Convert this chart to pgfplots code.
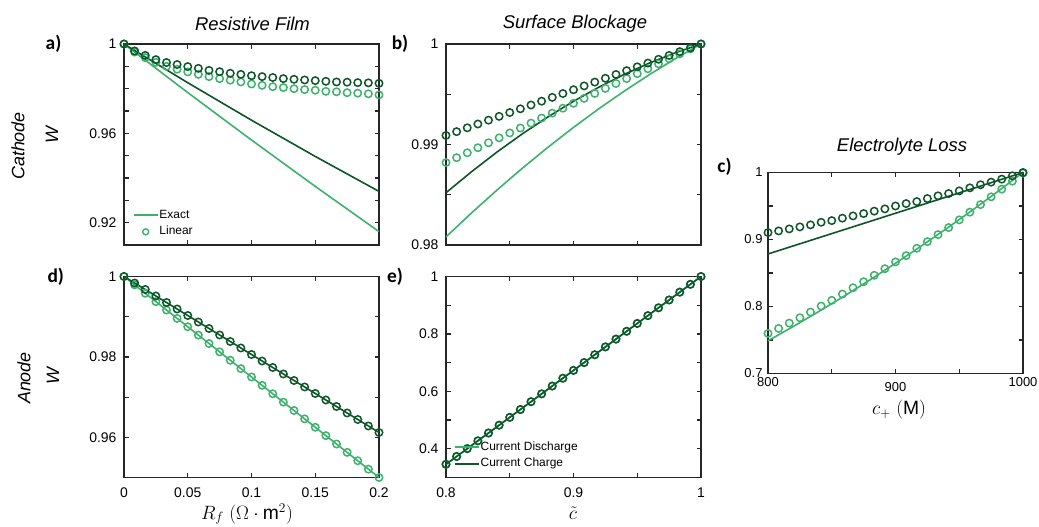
\documentclass[border=0pt]{standalone}
\usepackage{pgfplots}
\usepackage{pgfplotstable}
\pgfplotsset{compat=1.18}
\usepackage{fontspec}
\setmainfont{Liberation Sans}
\newfontfamily\labfont{Carlito}

\definecolor{lg}{RGB}{60,178,108}
\definecolor{dg}{RGB}{14,85,42}
\definecolor{axg}{RGB}{38,38,38}

% circle markers (linear model), 25 points per curve
\pgfplotstableread{
x dk lt
0       1.0000 1.0000
0.00833 0.9969 0.9964
0.01667 0.9949 0.9939
0.025   0.9930 0.9918
0.03333 0.9917 0.9900
0.04167 0.9908 0.9887
0.05    0.9899 0.9875
0.05833 0.9891 0.9864
0.06667 0.9882 0.9854
0.075   0.9876 0.9845
0.08333 0.9869 0.9838
0.09167 0.9864 0.9830
0.1     0.9858 0.9821
0.10833 0.9854 0.9815
0.11667 0.9850 0.9809
0.125   0.9845 0.9805
0.13333 0.9842 0.9800
0.14167 0.9839 0.9796
0.15    0.9836 0.9793
0.15833 0.9833 0.9788
0.16667 0.9830 0.9786
0.175   0.9829 0.9782
0.18333 0.9827 0.9780
0.19167 0.9826 0.9777
0.2     0.9824 0.9772
}\tabA

\pgfplotstableread{
x dk lt
0.8     0.99090 0.98820
0.80833 0.99128 0.98869
0.81667 0.99166 0.98918
0.825   0.99204 0.98968
0.83333 0.99242 0.99017
0.84167 0.99280 0.99066
0.85    0.99318 0.99115
0.85833 0.99355 0.99164
0.86667 0.99393 0.99213
0.875   0.99431 0.99263
0.88333 0.99469 0.99312
0.89167 0.99507 0.99361
0.9     0.99545 0.99410
0.90833 0.99583 0.99459
0.91667 0.99621 0.99508
0.925   0.99659 0.99558
0.93333 0.99697 0.99607
0.94167 0.99735 0.99656
0.95    0.99773 0.99705
0.95833 0.99810 0.99754
0.96667 0.99848 0.99803
0.975   0.99886 0.99853
0.98333 0.99924 0.99902
0.99167 0.99962 0.99951
1       1.00000 1.00000
}\tabB

\pgfplotstableread{
x dk lt
800    0.9103 0.7598
808.33 0.9128 0.7673
816.67 0.9158 0.7752
825    0.9188 0.7832
833.33 0.9218 0.7917
841.67 0.9257 0.8007
850    0.9282 0.8092
858.33 0.9318 0.8186
866.67 0.9352 0.8280
875    0.9387 0.8370
883.33 0.9423 0.8466
891.67 0.9457 0.8564
900    0.9500 0.8665
908.33 0.9536 0.8759
916.67 0.9566 0.8869
925    0.9611 0.8968
933.33 0.9652 0.9073
941.67 0.9686 0.9178
950    0.9726 0.9293
958.33 0.9771 0.9408
966.67 0.9817 0.9521
975    0.9856 0.9637
983.33 0.9901 0.9752
991.67 0.9951 0.9871
1000   1.0000 0.9991
}\tabC

\pgfplotstableread{
x dk lt
0       1.00000 1.00000
0.00833 0.99838 0.99792
0.01667 0.99677 0.99583
0.025   0.99515 0.99375
0.03333 0.99353 0.99167
0.04167 0.99192 0.98958
0.05    0.99030 0.98750
0.05833 0.98868 0.98542
0.06667 0.98707 0.98333
0.075   0.98545 0.98125
0.08333 0.98383 0.97917
0.09167 0.98222 0.97708
0.1     0.98060 0.97500
0.10833 0.97898 0.97292
0.11667 0.97737 0.97083
0.125   0.97575 0.96875
0.13333 0.97413 0.96667
0.14167 0.97252 0.96458
0.15    0.97090 0.96250
0.15833 0.96928 0.96042
0.16667 0.96767 0.95833
0.175   0.96605 0.95625
0.18333 0.96443 0.95417
0.19167 0.96282 0.95208
0.2     0.96120 0.95000
}\tabD

\pgfplotstableread{
x w
0.8     0.34600
0.80833 0.37325
0.81667 0.40050
0.825   0.42775
0.83333 0.45500
0.84167 0.48225
0.85    0.50950
0.85833 0.53675
0.86667 0.56400
0.875   0.59125
0.88333 0.61850
0.89167 0.64575
0.9     0.67300
0.90833 0.70025
0.91667 0.72750
0.925   0.75475
0.93333 0.78200
0.94167 0.80925
0.95    0.83650
0.95833 0.86375
0.96667 0.89100
0.975   0.91825
0.98333 0.94550
0.99167 0.97275
1       1.00000
}\tabE

\pgfplotsset{
  panel/.style={
    scale only axis, width=255bp, height=201bp, anchor=north west,
    clip=false,
    axis line style={draw=axg, line width=1.2bp},
    tick style={draw=axg, line width=1.2bp},
    major tick length=4.5bp,
    tick align=inside,
    ticklabel style={font=\fontsize{14}{16}\selectfont},
    yticklabel style={xshift=-4bp},
    xticklabel style={yshift=-7bp},
    legend style={draw=none, fill=none, inner sep=0pt, row sep=2.7bp,
      font=\fontsize{12}{14}\selectfont,
      nodes={inner sep=1bp, text height=9bp, text depth=3bp}},
    legend cell align=left,
    legend image code/.code={\draw[mark repeat=2, mark phase=2, #1]
      plot coordinates {(0bp,0bp) (12bp,0bp) (24bp,0bp)};},
  },
  ex/.style={no markers, line width=1.6bp},
  lin/.style={only marks, mark=o, mark size=3.7bp, mark options={line width=1.5bp}},
}

\begin{document}
\begin{tikzpicture}
\path[use as bounding box] (0bp,0bp) rectangle (1039bp,-527bp);

% a) cathode, resistive film
\begin{axis}[panel, at={(124bp,-44bp)},
    xmin=0, xmax=0.2, ymin=0.91, ymax=1,
    xtick={0,0.05,0.1,0.15,0.2}, xticklabels={},
    ytick={0.91,0.92,0.93,0.94,0.95,0.96,0.97,0.98,0.99,1},
    yticklabels={,0.92,,,,0.96,,,,1},
    legend entries={Exact, Linear},
    legend style={at={(axis description cs:0.034,0.107)}, anchor=west}]
  \addlegendimage{lg, line width=1.6bp}
  \addlegendimage{lg, only marks, mark=o, mark size=3bp, mark options={line width=1.4bp}}
  \addplot[ex, lg, forget plot] coordinates {(0,1) (0.05,0.97825) (0.1,0.957) (0.15,0.93625) (0.2,0.916)};
  \addplot[ex, dg, forget plot] coordinates {(0,1) (0.05,0.98266) (0.1,0.96588) (0.15,0.94966) (0.2,0.934)};
  \addplot[lin, lg, forget plot] table[x=x, y=lt] {\tabA};
  \addplot[lin, dg, forget plot] table[x=x, y=dk] {\tabA};
\end{axis}

% b) cathode, surface blockage
\begin{axis}[panel, at={(446bp,-44bp)},
    xmin=0.8, xmax=1, ymin=0.98, ymax=1,
    xtick={0.8,0.85,0.9,0.95,1}, xticklabels={},
    ytick={0.98,0.985,0.99,0.995,1}, yticklabels={0.98,,0.99,,1}]
  \addplot[ex, lg] coordinates {(0.8,0.98080) (0.82,0.98319) (0.84,0.98547) (0.86,0.98765)
    (0.88,0.98973) (0.9,0.99170) (0.92,0.99357) (0.94,0.99533) (0.96,0.99699) (0.98,0.99855) (1,1)};
  \addplot[ex, dg] coordinates {(0.8,0.98520) (0.82,0.98729) (0.84,0.98925) (0.86,0.99107)
    (0.88,0.99275) (0.9,0.99430) (0.92,0.99571) (0.94,0.99699) (0.96,0.99813) (0.98,0.99913) (1,1)};
  \addplot[lin, lg] table[x=x, y=lt] {\tabB};
  \addplot[lin, dg] table[x=x, y=dk] {\tabB};
\end{axis}

% c) electrolyte loss
\begin{axis}[panel, at={(768bp,-172.5bp)},
    xmin=800, xmax=1000, ymin=0.7, ymax=1,
    ticklabel style={font=\fontsize{13}{15}\selectfont},
    yticklabel style={xshift=2bp}, xticklabel style={yshift=6.5bp},
    xtick={800,850,900,950,1000},
    xticklabels={800,,\raisebox{-5bp}[\height][0pt]{900},,1000},
    ytick={0.7,0.75,0.8,0.85,0.9,0.95,1}, yticklabels={0.7,,0.8,,0.9,,1}]
  \addplot[ex, lg] coordinates {(800,0.7488) (820,0.7704) (840,0.7927) (860,0.8158) (880,0.8398)
    (900,0.8645) (920,0.8900) (940,0.9163) (960,0.9434) (980,0.9713) (1000,1)};
  \addplot[ex, dg] coordinates {(800,0.8784) (1000,1)};
  \addplot[lin, lg] table[x=x, y=lt] {\tabC};
  \addplot[lin, dg] table[x=x, y=dk] {\tabC};
\end{axis}

% d) anode, resistive film
\begin{axis}[panel, at={(124bp,-276.5bp)},
    xmin=0, xmax=0.2, ymin=0.95, ymax=1,
    xtick={0,0.05,0.1,0.15,0.2}, xticklabels={0,0.05,0.1,0.15,0.2},
    ytick={0.95,0.96,0.97,0.98,0.99,1}, yticklabels={,0.96,,0.98,,1}]
  \addplot[ex, lg] coordinates {(0,1) (0.2,0.95)};
  \addplot[ex, dg] coordinates {(0,1) (0.2,0.9612)};
  \addplot[lin, lg] table[x=x, y=lt] {\tabD};
  \addplot[lin, dg] table[x=x, y=dk] {\tabD};
\end{axis}

% e) anode, surface blockage
\begin{axis}[panel, at={(446bp,-276.5bp)},
    xmin=0.8, xmax=1, ymin=0.3, ymax=1,
    xtick={0.8,0.85,0.9,0.95,1}, xticklabels={0.8,,0.9,,1},
    ytick={0.3,0.4,0.5,0.6,0.7,0.8,0.9,1}, yticklabels={,0.4,,0.6,,0.8,,1},
    legend entries={Current Discharge, Current Charge},
    legend style={at={(axis description cs:0.031,0.11)}, anchor=west}]
  \addlegendimage{lg, line width=1.6bp}
  \addlegendimage{dg, line width=1.6bp}
  \addplot[ex, lg, forget plot] coordinates {(0.8,0.346) (1,1)};
  \addplot[lin, lg, forget plot] table[x=x, y=w] {\tabE};
  \addplot[ex, dg, forget plot] coordinates {(0.8,0.346) (1,1)};
  \addplot[lin, dg, forget plot] table[x=x, y=w] {\tabE};
\end{axis}

% titles, row labels, panel letters, axis labels
\begin{scope}[every node/.style={inner sep=0pt}]
\node[font=\fontsize{18.5}{22}\selectfont\itshape] at (252.5bp,-24.3bp) {Resistive Film};
\node[font=\fontsize{18.5}{22}\selectfont\itshape] at (575bp,-23.5bp) {Surface Blockage};
\node[font=\fontsize{18.5}{22}\selectfont\itshape] at (902bp,-147bp) {Electrolyte Loss};

\node[rotate=90, font=\fontsize{18}{20}\selectfont\itshape] at (18bp,-146bp) {Cathode};
\node[rotate=90, font=\fontsize{18}{20}\selectfont\itshape] at (52bp,-135bp) {W};
\node[rotate=90, font=\fontsize{18}{20}\selectfont\itshape] at (24bp,-378bp) {Anode};
\node[rotate=90, font=\fontsize{18}{20}\selectfont\itshape] at (53bp,-376bp) {W};

\node[font={\labfont\bfseries\fontsize{19.5}{22}\selectfont}] at (53.5bp,-44bp) {a)};
\node[font={\labfont\bfseries\fontsize{19.5}{22}\selectfont}] at (400bp,-44bp) {b)};
\node[font={\labfont\bfseries\fontsize{19.5}{22}\selectfont}] at (724.5bp,-166.5bp) {c)};
\node[font={\labfont\bfseries\fontsize{19.5}{22}\selectfont}] at (55.8bp,-277bp) {d)};
\node[font={\labfont\bfseries\fontsize{19.5}{22}\selectfont}] at (395bp,-277bp) {e)};

\node[scale=1.12, font=\fontsize{17.28}{20}\selectfont] at (247bp,-514bp) {$R_f\ (\Omega\cdot\mathrm{m}^2)$};
\node[scale=1.12, font=\fontsize{17.28}{20}\selectfont] at (573bp,-513bp) {$\tilde{c}$};
\node[scale=1.12, font=\fontsize{17.28}{20}\selectfont] at (899bp,-410bp) {$c_+\ (\mathrm{M})$};
\end{scope}
\end{tikzpicture}
\end{document}
